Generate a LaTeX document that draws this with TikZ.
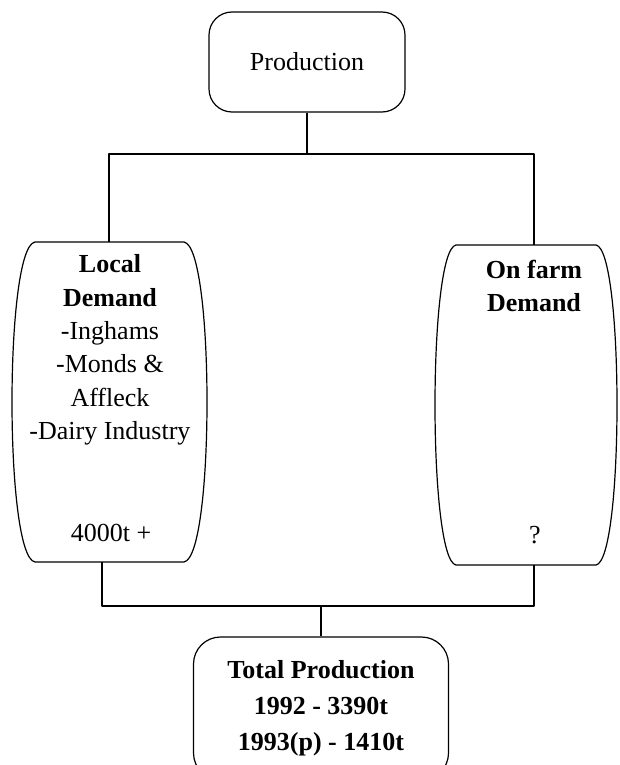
\documentclass[tikz,border=0pt]{standalone}
\usepackage{fontspec}
\setmainfont{Liberation Serif}
\usetikzlibrary{positioning}

% box with flat top and bottom and bowed sides
\newcommand\DrawDemandBox[5]{% left, right, top, bottom, corner inset
  \draw[box line] (#1+#5,#3) -- (#2-#5,#3)
    .. controls (#2+#5/3,#3+5) and (#2+#5/3,#4-5) .. (#2-#5,#4)
    -- (#1+#5,#4)
    .. controls (#1-#5/3,#4-5) and (#1-#5/3,#3+5) .. cycle;
}
\tikzset{
  box line/.style={line width=1.2pt, line join=round},
  box text/.style={align=center, inner sep=0pt, font=\fontsize{26}{33.4}\selectfont},
  procbox/.style={draw, line width=1.2pt, rounded corners=23pt, align=center, inner sep=0pt}
}

\begin{document}
\begin{tikzpicture}[x=1pt,y=-1pt]
  \useasboundingbox (0,0) rectangle (619,765);

  % boxes
  \node[procbox, box text, minimum width=196pt, minimum height=100pt] (prod) at (307,62) {Production};
  \DrawDemandBox{12}{207}{242}{562}{23}
  \DrawDemandBox{435}{617}{245}{565}{21}
  \node[procbox, box text, font=\fontsize{26}{36}\selectfont\bfseries, rounded corners=27pt,
    minimum width=255pt, minimum height=143pt] (total) at (321,708.5)
    {Total Production\\1992 - 3390t\\1993(p) - 1410t};

  % texts in the demand boxes
  \node[box text] (local) at (110,350)
    {\textbf{Local}\\\textbf{Demand}\\-Inghams\\-Monds \&\\Affleck\\-Dairy Industry};
  \node[box text] (localsum) at (111,533) {4000t +};
  \node[box text, font=\fontsize{26}{32.5}\selectfont\bfseries] (farm) at (534,286) {On farm\\Demand};
  \node[box text] (farmsum) at (535,535) {?};

  % connectors
  \coordinate (split) at (307,154);
  \coordinate (localin) at (109,242);
  \coordinate (farmin) at (534,245);
  \coordinate (localout) at (102,562);
  \coordinate (farmout) at (534,565);
  \coordinate (join) at (321,606);
  \draw[box line] (prod) -- (split);
  \draw[box line] (localin) |- (split) -| (farmin);
  \draw[box line] (localout) |- (join) -| (farmout);
  \draw[box line] (join) -- (total);
\end{tikzpicture}
\end{document}
